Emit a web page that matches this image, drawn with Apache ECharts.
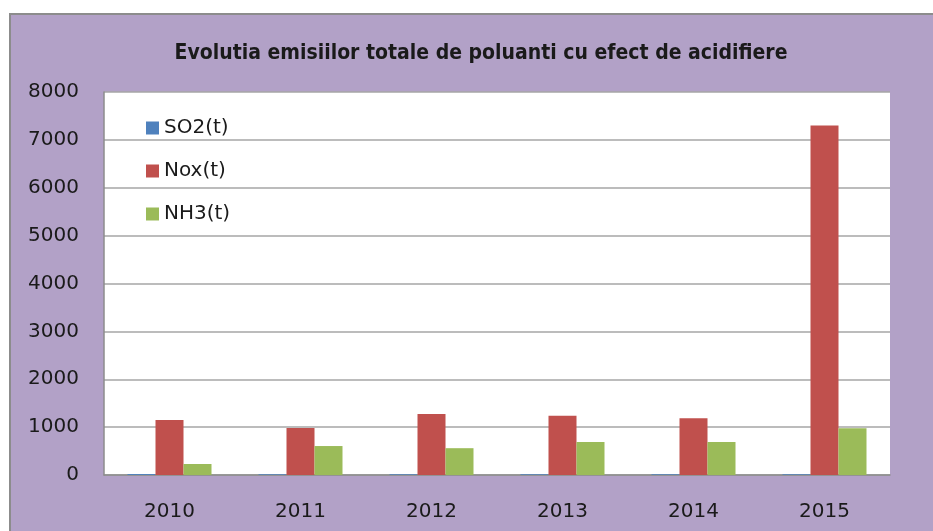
<!DOCTYPE html>
<html>
<head>
<meta charset="utf-8">
<script src="https://cdn.jsdelivr.net/npm/echarts@6/dist/echarts.min.js"></script>
<style>
  html, body { margin: 0; padding: 0; background: #fff; }
  #chart { width: 933px; height: 531px; }
</style>
</head>
<body>
<div id="chart"></div>
<script>
const years = ['2010', '2011', '2012', '2013', '2014', '2015']
const so2 = [20, 15, 15, 15, 15, 15]
const nox = [1150, 980, 1275, 1240, 1185, 7300]
const nh3 = [230, 605, 560, 690, 690, 975]

const chart = echarts.init(document.getElementById('chart'))

const labelFont = { fontFamily: 'DejaVu Sans', fontSize: 20, color: '#1a1a1a' }

chart.setOption({
  animation: false,
  backgroundColor: '#fff',
  graphic: [
    {
      type: 'rect',
      z: -10,
      silent: true,
      shape: { x: 10, y: 14, width: 940, height: 540 },
      style: { fill: '#B2A1C7', stroke: '#8c8c8c', lineWidth: 2 }
    },
    {
      type: 'rect',
      z: -5,
      silent: true,
      shape: { x: 104, y: 92, width: 786, height: 383 },
      style: { fill: '#fff' }
    }
  ],
  title: {
    text: 'Evolutia emisiilor totale de poluanti cu efect de acidifiere',
    left: 476,
    top: 38,
    textAlign: 'center',
    textStyle: { fontFamily: 'DejaVu Sans Condensed', fontWeight: 'bold', fontSize: 21, color: '#1a1a1a' }
  },
  legend: {
    orient: 'vertical',
    left: 141,
    top: 113,
    icon: 'rect',
    itemWidth: 13,
    itemHeight: 13,
    itemGap: 23,
    textStyle: labelFont,
    data: ['SO2(t)', 'Nox(t)', 'NH3(t)']
  },
  grid: { left: 104, right: 43, top: 92, bottom: 56, containLabel: false },
  xAxis: {
    type: 'category',
    data: years,
    axisLine: { lineStyle: { color: '#8c8c8c', width: 1.5 } },
    axisTick: { show: false },
    axisLabel: { ...labelFont, margin: 27 }
  },
  yAxis: {
    type: 'value',
    min: 0,
    max: 8000,
    interval: 1000,
    axisLine: { show: true, lineStyle: { color: '#8c8c8c', width: 1.5 } },
    axisTick: { show: false },
    axisLabel: { ...labelFont, margin: 25, formatter: v => String(v) },
    splitLine: { lineStyle: { color: '#a6a6a6', width: 1.5 } }
  },
  series: [
    { name: 'SO2(t)', type: 'bar', data: so2, barWidth: 28, barGap: '0%', itemStyle: { color: '#4F81BD' } },
    { name: 'Nox(t)', type: 'bar', data: nox, barWidth: 28, barGap: '0%', itemStyle: { color: '#C0504D' } },
    { name: 'NH3(t)', type: 'bar', data: nh3, barWidth: 28, barGap: '0%', itemStyle: { color: '#9BBB59' } }
  ]
})
</script>
</body>
</html>
